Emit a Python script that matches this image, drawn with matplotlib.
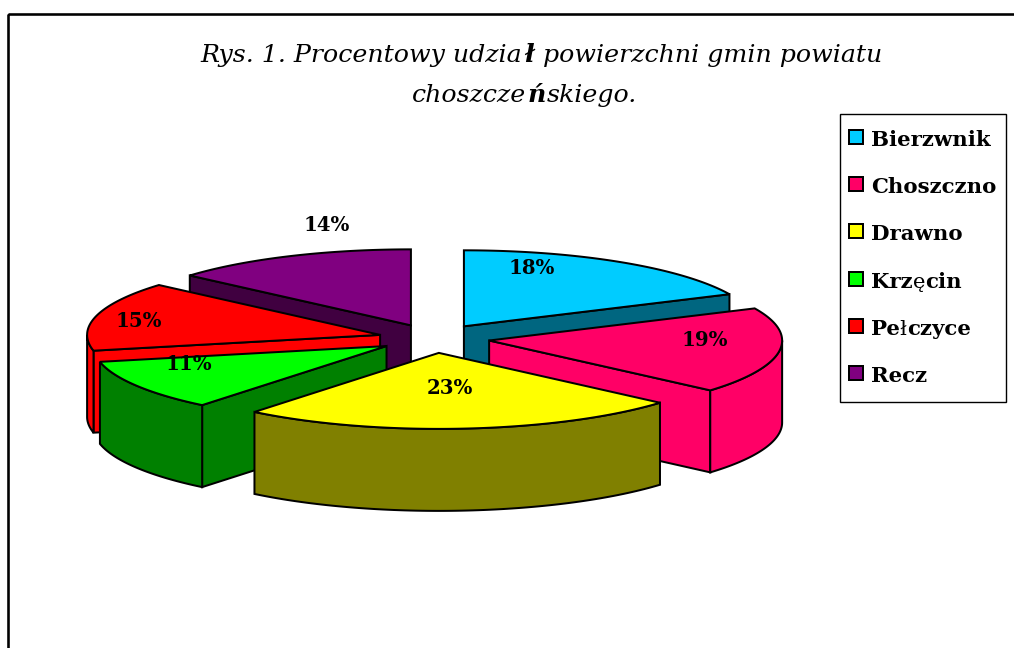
import numpy as np
import matplotlib
matplotlib.use('Agg')
import matplotlib.pyplot as plt
from matplotlib.patches import Polygon, Rectangle

categories = ['Bierzwnik', 'Choszczno', 'Drawno', 'Krzęcin', 'Pełczyce', 'Recz']
shares = [18, 19, 23, 11, 15, 14]
# the picture is in perspective, so the angles as drawn differ a bit from the shares
drawn_angles = [65, 66, 88, 39, 53, 49]
top_colors = ['#00CCFF', '#FF0066', '#FFFF00', '#00FF00', '#FF0000', '#800080']
side_colors = ['#006680', '#FF0066', '#808000', '#008000', '#FF0000', '#400040']
label_pos = [(532, 268), (705, 340), (450, 388), (189, 364), (139, 321), (327, 225)]
draw_order = [5, 0, 4, 1, 3, 2]

CX, CY = 434, 338.5
RX, RY = 293, 76
DEPTH = 82
EXPLODE = 0.19
LW = 2.0 * 72 / 100
SERIF = 'DejaVu Serif'

fig = plt.figure(figsize=(10.14, 6.48), dpi=100)
ax = fig.add_axes([0, 0, 1, 1])
ax.set_xlim(0, 1014)
ax.set_ylim(648, 0)
ax.axis('off')


def rim_point(t, r=1.0):
    return r * RX * np.sin(t), -r * RY * np.cos(t)


def add_poly(pts, color):
    ax.add_patch(Polygon(pts, closed=True, facecolor=color, edgecolor='black',
                         linewidth=LW, joinstyle='miter'))


def draw_runs(x, y, runs, size, style='normal', center=False, gap=0):
    # text with single glyphs in another weight, laid out one piece after another
    r = fig.canvas.get_renderer()
    pieces = [ax.text(x, y, s, fontsize=size, family=SERIF, style=style, weight=w,
                      va='baseline', ha='left', color='black') for s, w in runs]
    widths = [p.get_window_extent(r).width + gap for p in pieces]
    start = x - sum(widths) / 2 if center else x
    for p, w in zip(pieces, widths):
        p.set_x(start)
        start += w


edges = np.radians(np.concatenate([[0], np.cumsum(drawn_angles)]))

for i in draw_order:
    t0, t1 = edges[i], edges[i + 1]
    ox, oy = rim_point((t0 + t1) / 2, EXPLODE)
    ax_x, ax_y = CX + ox, CY + oy
    arc_t = np.linspace(t0, t1, 80)
    arc_x, arc_y = rim_point(arc_t)
    arc_x, arc_y = arc_x + ax_x, arc_y + ax_y

    # flat cut faces that look towards the viewer
    if np.sin(t0) < -1e-6:
        add_poly([(ax_x, ax_y), (arc_x[0], arc_y[0]), (arc_x[0], arc_y[0] + DEPTH), (ax_x, ax_y + DEPTH)],
                 side_colors[i])
    if np.sin(t1) > 1e-6:
        add_poly([(ax_x, ax_y), (arc_x[-1], arc_y[-1]), (arc_x[-1], arc_y[-1] + DEPTH), (ax_x, ax_y + DEPTH)],
                 side_colors[i])

    # outer rim, front half only
    lo, hi = max(t0, np.pi / 2), min(t1, 3 * np.pi / 2)
    if hi > lo:
        rim_t = np.linspace(lo, hi, 80)
        rx, ry = rim_point(rim_t)
        rx, ry = rx + ax_x, ry + ax_y
        add_poly(list(zip(rx, ry)) + list(zip(rx[::-1], ry[::-1] + DEPTH)), side_colors[i])

    add_poly([(ax_x, ax_y)] + list(zip(arc_x, arc_y)), top_colors[i])

for share, (lx, ly) in zip(shares, label_pos):
    ax.text(lx, ly, f'{share}%', fontsize=14.2, family=SERIF, weight='bold',
            ha='center', va='center', color='black')

# outer frame, cut off by the picture on the right and at the bottom
ax.add_patch(Rectangle((8, 14), 1040, 680, fill=False, edgecolor='black',
                       linewidth=2.6 * 72 / 100, clip_on=True))

# title
draw_runs(542, 62, [('Rys. 1. Procentowy udzia', 'normal'), ('ł', 'bold'),
                    (' powierzchni gmin powiatu', 'normal')], 18.2, style='italic', center=True, gap=1.2)
draw_runs(525, 102, [('choszcze', 'normal'), ('ń', 'bold'), ('skiego.', 'normal')],
          18.2, style='italic', center=True, gap=1.2)

# legend
ax.add_patch(Rectangle((840, 114), 166, 288, facecolor='white', edgecolor='black', linewidth=1.0))
legend_runs = [[('Bierzwnik', 'bold')], [('Choszczno', 'bold')], [('Drawno', 'bold')],
               [('Krz', 'bold'), ('ę', 'normal'), ('cin', 'bold')],
               [('Pe', 'bold'), ('ł', 'normal'), ('czyce', 'bold')], [('Recz', 'bold')]]
for i, runs in enumerate(legend_runs):
    row = 137 + i * 47.2
    ax.add_patch(Rectangle((849, row - 7), 14, 14, facecolor=top_colors[i], edgecolor='black', linewidth=LW))
    draw_runs(871, row + 9, runs, 15.3)

fig.savefig('out.png', dpi=100)
